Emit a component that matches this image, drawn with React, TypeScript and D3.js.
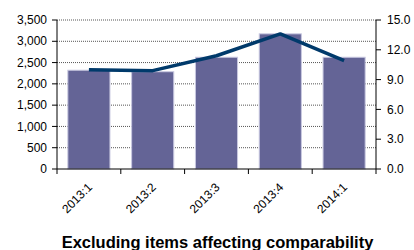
import React from 'react';
import * as d3 from 'd3';

const categories = ['2013:1', '2013:2', '2013:3', '2013:4', '2014:1'];
const barValues = [2320, 2285, 2625, 3175, 2625];
const lineValues = [10.0, 9.9, 11.4, 13.6, 10.9];
const leftTicks = [0, 500, 1000, 1500, 2000, 2500, 3000, 3500];
const rightTicks = [0, 3, 6, 9, 12, 15];
const title = 'Excluding items affecting comparability';

const font = '"Liberation Sans", Arial, sans-serif';

const App: React.FC = () => {
  const width = 414;
  const height = 250;
  const margin = { top: 20, right: 38, bottom: 81, left: 57 };
  const innerW = width - margin.left - margin.right;
  const innerH = height - margin.top - margin.bottom;

  const x = d3.scaleBand().domain(categories).range([0, innerW]).paddingInner(0.34).paddingOuter(0.17);
  const xEdge = d3.scaleBand().domain(categories).range([0, innerW]);
  const yLeft = d3.scaleLinear().domain([0, 3500]).range([innerH, 0]);
  const yRight = d3.scaleLinear().domain([0, 15]).range([innerH, 0]);

  const line = d3.line<number>()
    .x((_, i) => (xEdge(categories[i]) || 0) + xEdge.bandwidth() / 2)
    .y(d => yRight(d));

  return (
    <svg width={width} height={height} style={{ position: 'absolute', left: 0, top: 0 }}>
      <g transform={`translate(${margin.left},${margin.top})`} fontFamily={font}>
        {/* gridlines */}
        {leftTicks.filter(t => t > 0).map(t => (
          <line key={t} x1={0} x2={innerW} y1={yLeft(t)} y2={yLeft(t)}
            stroke="#555" strokeWidth={1} strokeDasharray="1,1" />
        ))}

        {/* bars */}
        {categories.map((c, i) => (
          <rect key={c} x={x(c)} y={yLeft(barValues[i])} width={x.bandwidth()}
            height={innerH - yLeft(barValues[i])}
            fill="#646496" stroke="#c8c8e0" strokeWidth={1} />
        ))}

        {/* line */}
        <path d={line(lineValues) || ''} fill="none" stroke="#003a6b" strokeWidth={3.5}
          strokeLinejoin="round" />

        {/* left axis */}
        <line x1={0} x2={0} y1={0} y2={innerH} stroke="#000" />
        {leftTicks.map(t => (
          <g key={t} transform={`translate(0,${yLeft(t)})`}>
            <line x1={-5} x2={0} stroke="#000" />
            <text x={-10} dy="0.35em" textAnchor="end" fontSize={12} fill="#000">
              {d3.format(',')(t)}
            </text>
          </g>
        ))}

        {/* right axis */}
        <line x1={innerW} x2={innerW} y1={0} y2={innerH} stroke="#000" />
        {rightTicks.map(t => (
          <g key={t} transform={`translate(${innerW},${yRight(t)})`}>
            <line x1={0} x2={5} stroke="#000" />
            <text x={11} dy="0.35em" textAnchor="start" fontSize={12} fill="#000">
              {d3.format('.1f')(t)}
            </text>
          </g>
        ))}

        {/* bottom axis */}
        <line x1={0} x2={innerW} y1={innerH} y2={innerH} stroke="#000" />
        {categories.map(c => (
          <line key={'t' + c} x1={xEdge(c) || 0} x2={xEdge(c) || 0}
            y1={innerH} y2={innerH + 5} stroke="#000" />
        ))}
        <line x1={innerW} x2={innerW} y1={innerH} y2={innerH + 5} stroke="#000" />
        {categories.map(c => {
          const cx = (xEdge(c) || 0) + xEdge.bandwidth() / 2 + 1;
          const cy = innerH + 16;
          return (
            <text key={'l' + c} transform={`translate(${cx},${cy}) rotate(-45)`}
              textAnchor="end" dy="0.35em" fontSize={12} fill="#000">{c}</text>
          );
        })}

        {/* title */}
        <text x={innerW / 2 + 1} y={height - margin.top - 2} textAnchor="middle"
          fontSize={16.5} fontWeight="bold" fill="#000">{title}</text>
      </g>
    </svg>
  );
};

export default App;
